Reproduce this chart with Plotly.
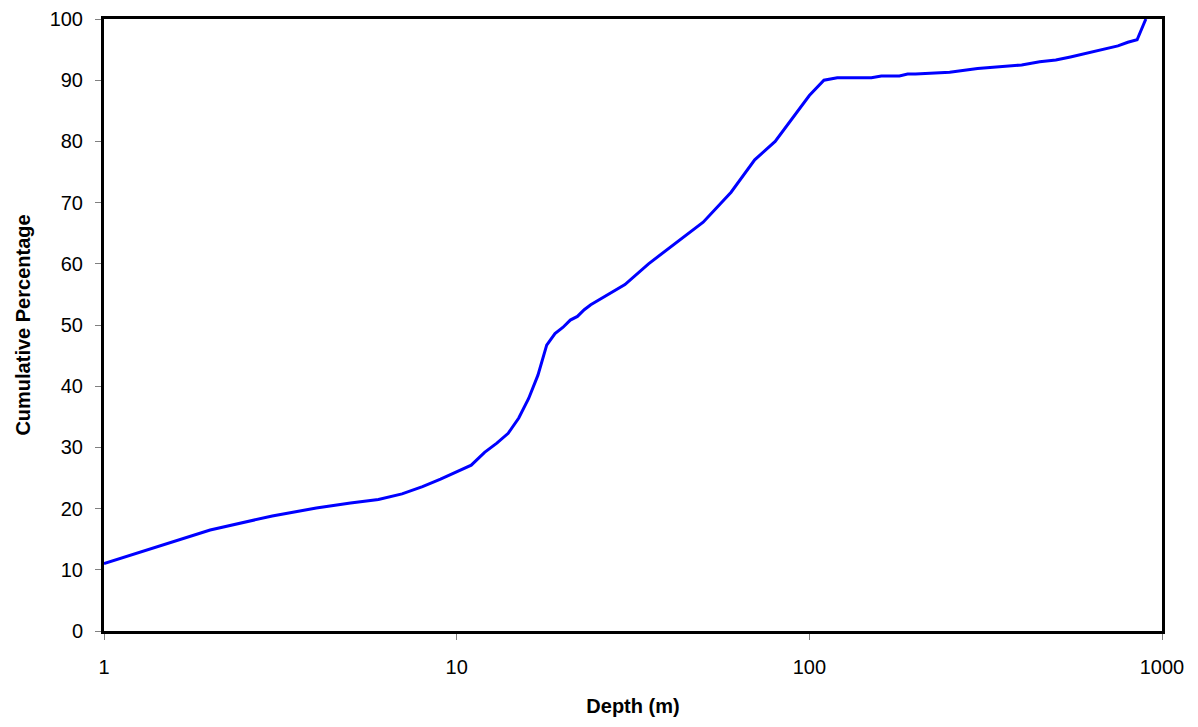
import plotly.graph_objects as go

depth = [1, 2, 3, 4, 5, 6, 7, 8, 9, 10, 11, 12, 13, 14, 15, 16, 17, 18, 19, 20,
         21, 22, 23, 24, 25, 30, 35, 40, 50, 60, 70, 80, 90, 100, 110, 120, 150,
         160, 180, 190, 200, 250, 300, 400, 450, 500, 550, 600, 650, 700, 750,
         800, 850, 900]
cum_pct = [11.0, 16.5, 18.8, 20.1, 20.9, 21.5, 22.4, 23.6, 24.8, 26.0, 27.1, 29.2,
           30.7, 32.3, 34.8, 38.0, 41.8, 46.7, 48.6, 49.6, 50.8, 51.4, 52.5, 53.3,
           53.9, 56.6, 60.0, 62.6, 66.8, 71.7, 77.0, 80.0, 84.0, 87.5, 90.0, 90.4,
           90.4, 90.7, 90.7, 91.0, 91.0, 91.3, 91.9, 92.5, 93.0, 93.3, 93.8, 94.3,
           94.8, 95.3, 95.6, 96.2, 96.6, 100.0]

y_ticks = list(range(0, 101, 10))
x_ticks = [1, 10, 100, 1000]

fig = go.Figure()
fig.add_trace(go.Scatter(x=depth, y=cum_pct, mode="lines",
                         line=dict(color="#0000FF", width=3), showlegend=False))

font_family = "Liberation Sans, Arial, sans-serif"
fig.update_layout(
    width=1190, height=719,
    margin=dict(l=96, r=36, t=11, b=96, autoexpand=False),
    paper_bgcolor="white", plot_bgcolor="white",
    font=dict(family=font_family, size=20, color="black"),
    xaxis=dict(type="log", range=[0, 3], tickvals=x_ticks,
               ticktext=[str(v) for v in x_ticks],
               showgrid=False, zeroline=False, automargin=False,
               showline=True, linecolor="black", linewidth=3, mirror=True,
               ticks="outside", ticklen=6, tickwidth=1, tickcolor="#808080",
               ticklabelstandoff=10,
               title=dict(text="<b>Depth (m)</b>", font=dict(size=20), standoff=22)),
    yaxis=dict(range=[0, 100], tickvals=y_ticks,
               showgrid=False, zeroline=False, automargin=False,
               showline=True, linecolor="black", linewidth=3, mirror=True,
               ticks="outside", ticklen=6, tickwidth=1, tickcolor="#808080",
               ticklabelstandoff=8,
               title=dict(text="<b>Cumulative Percentage</b>", font=dict(size=20), standoff=14)),
)

fig.write_html("out.html")
